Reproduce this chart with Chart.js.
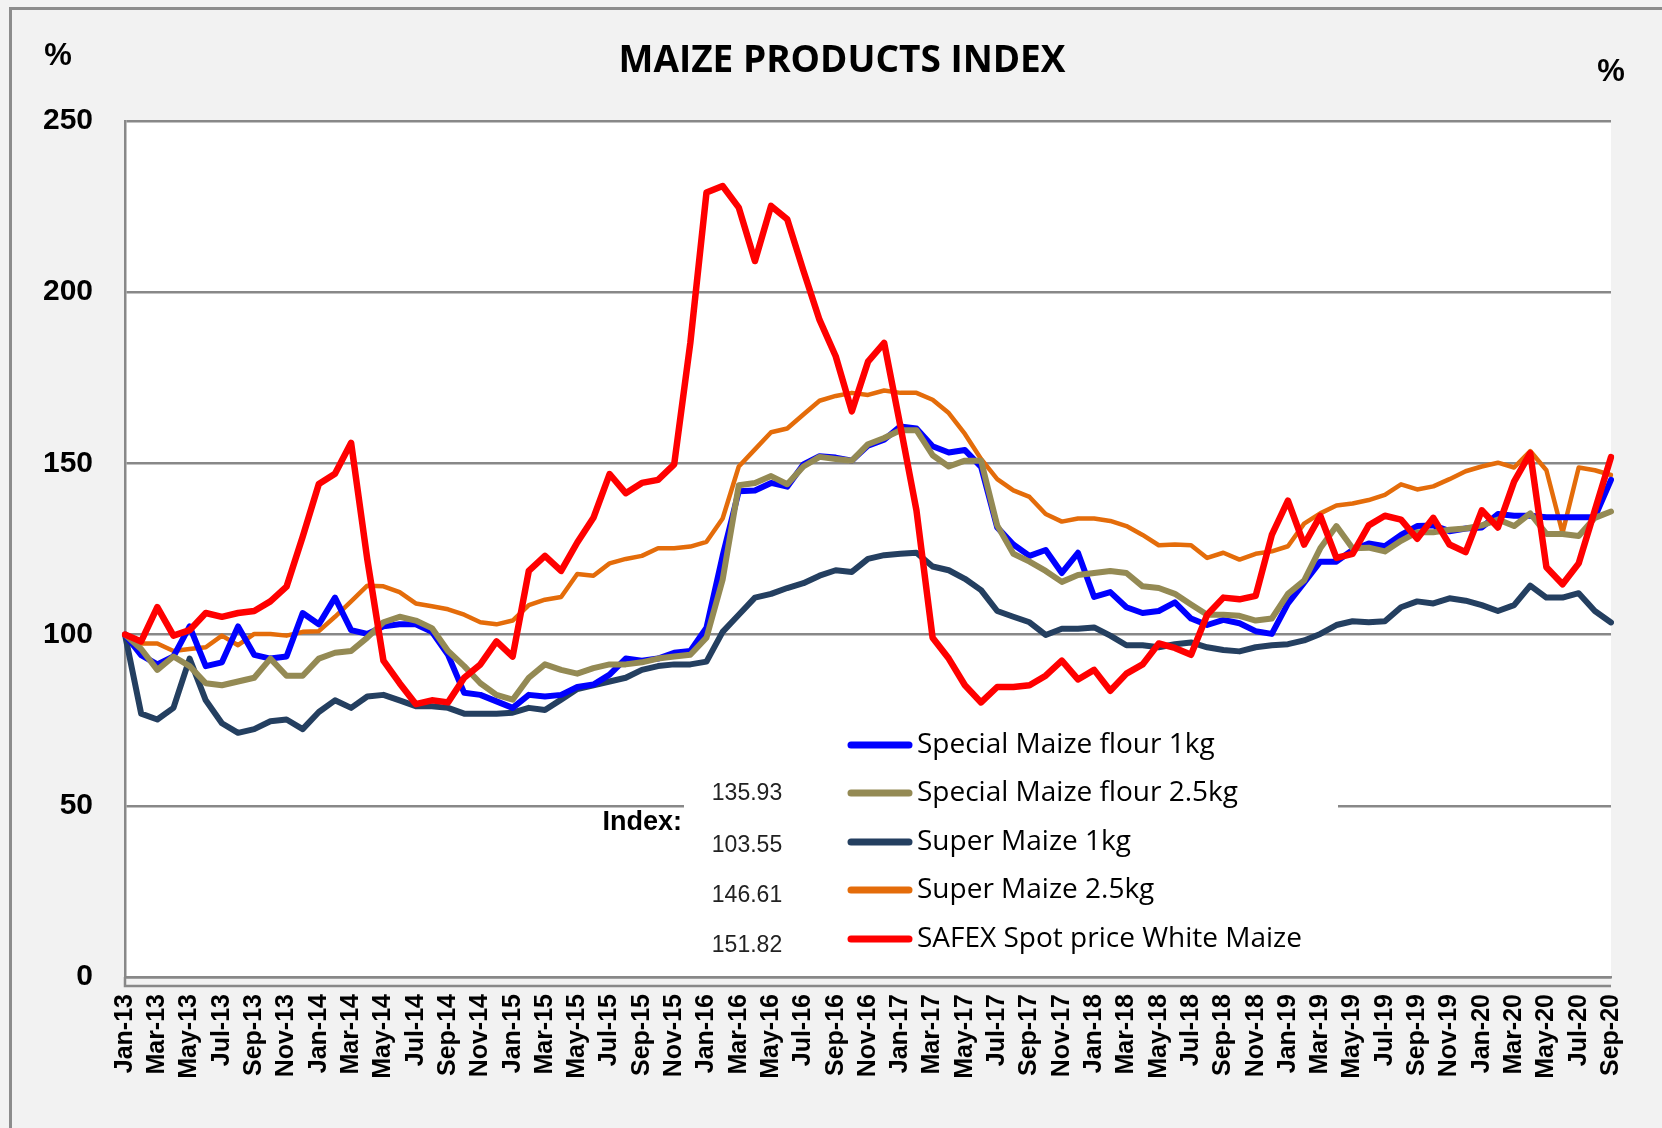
<!DOCTYPE html>
<html>
<head>
<meta charset="utf-8">
<title>Maize Products Index</title>
<script src="https://cdn.jsdelivr.net/npm/chart.js@4.4.1/dist/chart.umd.min.js"></script>
<style>
  html, body { margin: 0; padding: 0; background: #f2f2f2; }
  canvas { display: block; }
</style>
</head>
<body>
<canvas id="maizeChart" width="1662" height="1128"></canvas>
<script>
// months Jan-13 .. Sep-20
var monthNames = ['Jan', 'Feb', 'Mar', 'Apr', 'May', 'Jun', 'Jul', 'Aug', 'Sep', 'Oct', 'Nov', 'Dec'];
var months = [];
for (var yr = 13; yr <= 20; yr++) {
    for (var mo = 0; mo < 12; mo++) {
        if (yr === 20 && mo > 8) break;
        months.push(monthNames[mo] + '-' + yr);
    }
}

var yTicks = [0, 50, 100, 150, 200, 250];

var specialFlour1kg = [
    100, 94, 91.3, 93.6, 102.4, 90.8, 91.9, 102.4, 94.1, 93, 93.6, 106.3,
    103, 110.8, 101.3, 100.2, 102.4, 103, 103, 100.8, 94.1, 83, 82.4, 80.5,
    78.6, 82.4, 81.9, 82.4, 84.7, 85.4, 88.3, 93, 92.4, 93, 94.7, 95.2,
    102, 123, 141.9, 142.1, 144.3, 143.2, 149.7, 152.1, 151.7, 150.8, 155.2, 156.9,
    160.8, 160.2, 155, 153.2, 153.9, 149, 131.3, 126.3, 123, 124.7, 118, 123.9,
    111, 112.4, 108, 106.3, 106.9, 109.4, 104.7, 102.8, 104.3, 103.3, 101, 100.2,
    109.1, 115.2, 121.3, 121.3, 124.7, 126.6, 125.8, 129.1, 131.7, 131.9, 130.2, 131,
    131.3, 135.2, 134.7, 134.7, 134.3, 134.3, 134.3, 134.3, 145.2
];

var specialFlour25kg = [
    100, 95.8, 89.7, 93.6, 90.8, 85.8, 85.2, 86.3, 87.4, 93, 88, 88,
    93, 94.7, 95.2, 99.1, 103.6, 105.2, 104.1, 101.9, 95.2, 90.8, 85.8, 82.4,
    81, 87.4, 91.3, 89.7, 88.6, 90.2, 91.3, 91.3, 91.9, 93, 93.6, 94.1,
    99.1, 116, 143.6, 144.3, 146.3, 143.9, 149.1, 151.9, 151.3, 150.8, 155.6, 157.4,
    159.7, 159.7, 152.4, 149.1, 150.8, 150.8, 131.9, 123.6, 121.3, 118.6, 115.4, 117.4,
    118, 118.6, 118, 114.1, 113.6, 111.9, 108.8, 105.8, 105.8, 105.5, 104.1, 104.7,
    111.9, 115.8, 125.2, 131.7, 125.2, 125.4, 124.3, 127.4, 129.9, 129.9, 130.6, 131,
    131.9, 133.6, 131.7, 135.4, 129.4, 129.4, 128.8, 134.1, 135.93
];

var superMaize1kg = [
    100, 76.9, 75.2, 78.6, 93, 80.8, 74.1, 71.3, 72.4, 74.7, 75.2, 72.4,
    77.4, 80.8, 78.6, 81.9, 82.4, 80.8, 79.1, 79.1, 78.6, 76.9, 76.9, 76.9,
    77.2, 78.6, 78, 81, 84.1, 85.2, 86.3, 87.4, 89.7, 90.8, 91.3, 91.3,
    92.1, 100.8, 105.8, 110.8, 111.9, 113.6, 115, 117.2, 118.8, 118.3, 122.1, 123.2,
    123.6, 123.9, 119.9, 118.8, 116.3, 113, 106.9, 105.2, 103.6, 99.9, 101.7, 101.7,
    102.1, 99.7, 96.9, 96.9, 96.3, 97.2, 97.7, 96.3, 95.5, 95.1, 96.3, 96.9,
    97.2, 98.3, 100.2, 102.8, 103.9, 103.6, 103.9, 108, 109.7, 109.1, 110.6, 109.9,
    108.6, 106.9, 108.6, 114.3, 110.8, 110.8, 112.1, 106.9, 103.55
];

var superMaize25kg = [
    100, 97.4, 97.4, 95.2, 95.8, 96.3, 99.7, 96.9, 100.2, 100.2, 99.7, 100.8,
    101, 105.2, 109.7, 114.3, 114.1, 112.4, 109.1, 108.3, 107.4, 105.8, 103.6, 103,
    104.1, 108.6, 110.2, 111, 117.7, 117.2, 120.8, 122.1, 123, 125.2, 125.2, 125.7,
    127.1, 133.9, 149.1, 154.1, 159.1, 160.2, 164.3, 168.3, 169.7, 170.6, 170, 171.3,
    170.6, 170.6, 168.6, 164.7, 158.6, 151.3, 145.4, 142.1, 140.2, 135.2, 133, 133.9,
    133.9, 133.2, 131.7, 129.1, 126.1, 126.3, 126.1, 122.4, 123.9, 121.9, 123.6, 124.3,
    125.8, 132.4, 135.4, 137.7, 138.3, 139.3, 140.8, 143.9, 142.4, 143.3, 145.4, 147.7,
    149.1, 150.2, 148.8, 153.6, 148, 129.7, 148.8, 148, 146.61
];

var safexWhite = [
    100, 98, 108, 99.7, 101.3, 106.3, 105.2, 106.3, 106.9, 109.7, 114, 128.6,
    144, 147, 156, 122, 92.4, 85.8, 79.7, 80.8, 80.2, 87.4, 91.3, 98,
    93.6, 118.6, 123, 118.6, 126.9, 134.1, 146.9, 141.3, 144.3, 145.2, 149.7, 185.2,
    229.1, 231, 224.7, 209.1, 225.2, 221.3, 206.3, 191.9, 181.3, 165.2, 179.7, 185.2,
    161, 136.3, 99.1, 93, 85.2, 80.2, 84.7, 84.7, 85.2, 88, 92.4, 86.9,
    89.7, 83.6, 88.6, 91.3, 97.4, 96.1, 94.1, 105.8, 110.8, 110.3, 111.3, 129.1,
    139.1, 126.3, 134.7, 122.4, 123.6, 131.9, 134.7, 133.6, 128, 134.1, 126.3, 124.1,
    136.3, 131.3, 144.7, 153, 119.7, 114.7, 120.8, 136.3, 151.82
];

var seriesNames = ['Special Maize flour 1kg', 'Special Maize flour 2.5kg', 'Super Maize 1kg',
    'Super Maize 2.5kg', 'SAFEX Spot price White Maize'];
var seriesColors = ['#0000ff', '#948a54', '#243f60', '#e46c0a', '#ff0000'];
var indexValues = ['135.93', '103.55', '146.61', '151.82'];

// fondo, marco y doble linea del eje
var framePlugin = {
    id: 'frame',
    beforeDraw: function (chart) {
        var ctx = chart.ctx, a = chart.chartArea;
        ctx.save();
        ctx.fillStyle = '#f2f2f2';
        ctx.fillRect(0, 0, chart.width, chart.height);
        ctx.strokeStyle = '#8c8c8c';
        ctx.lineWidth = 3;
        ctx.beginPath();
        ctx.moveTo(10.5, chart.height);
        ctx.lineTo(10.5, 8.5);
        ctx.lineTo(chart.width, 8.5);
        ctx.stroke();
        ctx.fillStyle = '#ffffff';
        ctx.fillRect(a.left, a.top, a.right - a.left, a.bottom - a.top);
        ctx.restore();
    },
    beforeDatasetsDraw: function (chart) {
        // caja blanca de la leyenda (tapa la linea de 50)
        var ctx = chart.ctx;
        ctx.save();
        ctx.fillStyle = '#ffffff';
        ctx.fillRect(684, 725, 654, 245);
        ctx.restore();
    },
    afterDraw: function (chart) {
        var ctx = chart.ctx, a = chart.chartArea;
        ctx.save();
        ctx.strokeStyle = '#888888';
        ctx.lineWidth = 2.5;
        ctx.beginPath();
        ctx.moveTo(a.left, a.bottom);
        ctx.lineTo(a.left, a.bottom + 9);
        ctx.lineTo(a.right, a.bottom + 9);
        ctx.stroke();

        // titulo y unidades
        ctx.fillStyle = '#000000';
        ctx.textBaseline = 'middle';
        ctx.textAlign = 'center';
        ctx.font = 'bold 37px "Open Sans"';
        ctx.fillText('MAIZE PRODUCTS INDEX', 842, 61);
        ctx.font = 'bold 31px "Liberation Sans"';
        ctx.fillText('%', 58, 56);
        ctx.fillText('%', 1611, 72);

        // leyenda
        var legendY = [745, 793, 842, 890, 939];
        for (var i = 0; i < seriesNames.length; i++) {
            ctx.strokeStyle = seriesColors[i];
            ctx.lineWidth = 7;
            ctx.lineCap = 'round';
            ctx.beginPath();
            ctx.moveTo(851, legendY[i]);
            ctx.lineTo(909, legendY[i]);
            ctx.stroke();
            ctx.fillStyle = '#000000';
            ctx.textAlign = 'left';
            ctx.font = '28px "Open Sans"';
            ctx.fillText(seriesNames[i], 917, legendY[i]);
        }

        // valores del indice
        var valueY = [794, 846, 896, 946];
        ctx.font = '23px "Liberation Sans"';
        ctx.textAlign = 'center';
        ctx.fillStyle = '#222222';
        for (var j = 0; j < indexValues.length; j++) {
            ctx.fillText(indexValues[j], 747, valueY[j]);
        }
        ctx.font = 'bold 27px "Liberation Sans"';
        ctx.textAlign = 'right';
        ctx.fillStyle = '#000000';
        ctx.fillText('Index:', 682, 823);
        ctx.restore();
    }
};

var datasets = [
    { data: specialFlour1kg, borderWidth: 6, order: 2 },
    { data: specialFlour25kg, borderWidth: 6, order: 1 },
    { data: superMaize1kg, borderWidth: 6, order: 4 },
    { data: superMaize25kg, borderWidth: 4.5, order: 3 },
    { data: safexWhite, borderWidth: 6.5, order: 0 }
].map(function (d, i) {
    d.label = seriesNames[i];
    d.borderColor = seriesColors[i];
    d.backgroundColor = seriesColors[i];
    d.pointRadius = 0;
    d.tension = 0;
    d.fill = false;
    d.borderJoinStyle = 'round';
    d.borderCapStyle = 'round';
    return d;
});

var ctx = document.getElementById('maizeChart').getContext('2d');
var maizeChart = new Chart(ctx, {
    type: 'line',
    data: { labels: months, datasets: datasets },
    plugins: [framePlugin],
    options: {
        responsive: false,
        animation: false,
        layout: { padding: { top: 121, right: 51, left: 0, bottom: 0 } },
        plugins: {
            legend: { display: false },
            title: { display: false },
            tooltip: { enabled: false }
        },
        scales: {
            x: {
                type: 'category',
                offset: false,
                grid: { display: false, drawTicks: false },
                border: { display: true, color: '#888888', width: 2.5 },
                ticks: {
                    autoSkip: false,
                    minRotation: 90,
                    maxRotation: 90,
                    padding: 17,
                    color: '#000000',
                    font: { family: 'Liberation Sans', weight: 'bold', size: 25 },
                    callback: function (value, index) {
                        return index % 2 === 0 ? this.getLabelForValue(value) : '';
                    }
                },
                afterFit: function (scale) { scale.height = 151; }
            },
            y: {
                min: yTicks[0],
                max: yTicks[yTicks.length - 1],
                afterBuildTicks: function (scale) {
                    scale.ticks = yTicks.map(function (v) { return { value: v }; });
                },
                grid: { color: '#888888', lineWidth: 2.5, drawTicks: false },
                border: { display: true, color: '#888888', width: 2.5 },
                ticks: {
                    padding: 32,
                    color: '#000000',
                    font: { family: 'Liberation Sans', weight: 'bold', size: 30 }
                },
                afterFit: function (scale) { scale.width = 125; }
            }
        }
    }
});
</script>
</body>
</html>
